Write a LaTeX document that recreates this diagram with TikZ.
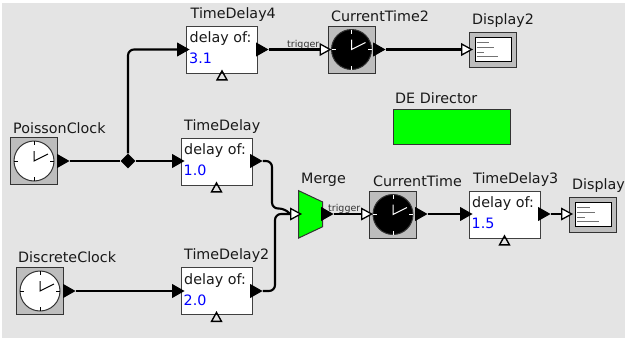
\documentclass[tikz,border=0pt]{standalone}
\usepackage{xcolor}
\usepackage{fontspec}
\setmainfont{DejaVu Sans}
\usetikzlibrary{arrows,shapes}

\definecolor{canvasgray}{HTML}{E4E4E4}
\definecolor{actorgray}{HTML}{BDBDBD}

\tikzset{
  x=1pt, y=-1pt,
  title/.style={anchor=base west, inner sep=0pt, font=\fontsize{14.3}{16}\selectfont, text=black!90},
  small/.style={anchor=base west, inner sep=0pt, font=\fontsize{9.5}{11}\selectfont, text=black!80},
  actor/.style={draw=black!80, fill=actorgray, line width=1pt, minimum width=47pt, minimum height=47pt, inner sep=0pt},
  viewer/.style={actor, minimum height=35pt},
  delaybox/.style={draw=black!75, fill=white, line width=1pt, minimum width=71pt, minimum height=47pt, inner sep=0pt},
  port/.style={isosceles triangle, isosceles triangle stretches, shape border rotate=0, anchor=lower side,
    minimum width=11pt, minimum height=10pt, inner sep=0pt, line width=1pt},
  inport/.style={port, draw=black, fill=black, minimum width=12.5pt, minimum height=11pt},
  openport/.style={port, draw=black, fill=white, line width=1.3pt},
  wire/.style={line width=2.1pt, rounded corners=6pt},
  dial/.style={circle, draw=black!80, line width=1pt, minimum size=40pt, inner sep=0pt},
}

% clock: name, x, y, face colour, hand colour
\newcommand{\ClockActor}[5]{
  \node[actor] (#1) at (#2,#3) {};
  \node[dial, fill=#4] (#1Face) at (#2,#3) {};
  \begin{scope}[shift={(#2,#3)}]
    \draw[#5, line width=1pt] (0,-20) -- (0,-16) (0,20) -- (0,16) (-20,0) -- (-16,0) (20,0) -- (16,0);
    \draw[#5, line width=1pt] (0,-10) -- (0,0) -- (14,-7);
  \end{scope}
}
% delay box: name, x, y, value
\newcommand{\DelayActor}[4]{
  \node[delaybox] (#1) at (#2,#3) {};
  \begin{scope}[shift={(#2,#3)}]
    \node[title, xshift=-32.5pt, yshift=7pt] (#1Text) at (0,0) {delay of:};
    \node[title, xshift=-33pt, yshift=-14pt, text=blue] (#1Value) at (0,0) {#4};
    \node[isosceles triangle, isosceles triangle stretches, shape border rotate=90, draw=black, line width=1.4pt,
      minimum width=10pt, minimum height=9pt, inner sep=0pt] (#1Trig) at (0,27.5) {};
  \end{scope}
}
% display: name, x, y
\newcommand{\DisplayActor}[3]{
  \node[viewer] (#1) at (#2,#3) {};
  \begin{scope}[shift={(#2,#3)}]
    \draw[black, fill=white, line width=1pt] (-17.5,-12) rectangle (18.5,11.5);
    \draw[black!55, line width=0.8pt] (-16,-7) -- (-3.5,-7) (-16,-2.5) -- (1.5,-2.5) (-16,2.5) -- (-8.5,2.5) (-16,7) -- (5.5,7);
  \end{scope}
}

\begin{document}
\begin{tikzpicture}
    \useasboundingbox (0,0) rectangle (625,338);
    \fill[canvasgray] (2,3) rectangle (625,338);

    %actors
    \ClockActor{PoissonClock}{34}{161}{white}{black}
    \ClockActor{DiscreteClock}{40}{291}{white}{black}
    \ClockActor{CurrentTimeTwo}{351.5}{49.5}{black}{white}
    \ClockActor{CurrentTime}{393}{214.5}{black}{white}
    \DelayActor{TimeDelayFour}{222}{49.5}{3.1}
    \DelayActor{TimeDelay}{216.5}{161.5}{1.0}
    \DelayActor{TimeDelayTwo}{216.5}{291}{2.0}
    \DelayActor{TimeDelayThree}{504.5}{214.5}{1.5}
    \DisplayActor{DisplayTwo}{492.5}{49.5}
    \DisplayActor{Display}{593}{214.5}
    \draw[black!80, fill=green, line width=1pt] (298.7,190.7) -- (322.7,202) -- (322.7,226.7) -- (298.7,238) -- cycle;
    \node[draw=black!80, fill=green, line width=1pt, minimum width=117pt, minimum height=35pt, inner sep=0pt] (Director) at (451.5,126.5) {};

    %labels
    \node[title] (lblPoisson) at (13,133) {PoissonClock};
    \node[title] (lblDiscrete) at (18,262) {DiscreteClock};
    \node[title] (lblDelayFour) at (190.5,18) {TimeDelay4};
    \node[title] (lblDelay) at (184,130) {TimeDelay};
    \node[title] (lblDelayTwo) at (184,259) {TimeDelay2};
    \node[title] (lblDelayThree) at (473,183) {TimeDelay3};
    \node[title] (lblCurrentTwo) at (331,21) {CurrentTime2};
    \node[title] (lblCurrent) at (373,186) {CurrentTime};
    \node[title] (lblDisplayTwo) at (472,24) {Display2};
    \node[title] (lblDisplay) at (572,189) {Display};
    \node[title] (lblMerge) at (301,183) {Merge};
    \node[title] (lblDirector) at (395,103) {DE Director};
    \node[small] (lblTrigTwo) at (287,47) {trigger};
    \node[small] (lblTrig) at (328,211) {trigger};

    %ports
    \node[inport] (poissonOut) at (57,161) {};
    \node[inport] (discreteOut) at (63,291) {};
    \node[inport] (delayOut) at (250,161) {};
    \node[inport] (delayTwoOut) at (250,291) {};
    \node[inport] (delayFourOut) at (256,49.5) {};
    \node[inport] (delayThreeOut) at (538,214) {};
    \node[inport] (currentTwoOut) at (373,49.5) {};
    \node[inport] (currentOut) at (415,214) {};
    \node[inport] (mergeOut) at (321,214) {};
    \node[inport] (delayIn) at (172,161) {};
    \node[inport] (delayTwoIn) at (172,291) {};
    \node[inport] (delayFourIn) at (177,49.5) {};
    \node[inport] (delayThreeIn) at (460,214) {};
    \node[openport] (currentTwoIn) at (319.5,49.5) {};
    \node[openport] (currentIn) at (361,214) {};
    \node[openport] (mergeIn) at (290,214) {};
    \node[openport] (displayTwoIn) at (461,49.5) {};
    \node[openport] (displayIn) at (561,214) {};
    \node[diamond, fill=black, minimum size=15pt, inner sep=0pt] (junction) at (128,161) {};

    %connectors
    \draw[wire] (poissonOut.apex) -- (junction) -- (delayIn.lower side);
    \draw[wire] (junction) -- (128,49.5) -- (delayFourIn.lower side);
    \draw[wire] (discreteOut.apex) -- (delayTwoIn.lower side);
    \draw[wire] (delayFourOut.apex) -- (currentTwoIn.lower side);
    \draw[wire] (currentTwoOut.apex) -- (displayTwoIn.lower side);
    \draw[wire] (delayOut.apex) -- (272,161) -- (272,208.5) -- (285,208.5) -- (mergeIn.lower side);
    \draw[wire] (delayTwoOut.apex) -- (275,291) -- (275,214) -- (mergeIn.lower side);
    \draw[wire] (mergeOut.apex) -- (currentIn.lower side);
    \draw[wire] (currentOut.apex) -- (delayThreeIn.lower side);
    \draw[wire] (delayThreeOut.apex) -- (displayIn.lower side);
\end{tikzpicture}
\end{document}
